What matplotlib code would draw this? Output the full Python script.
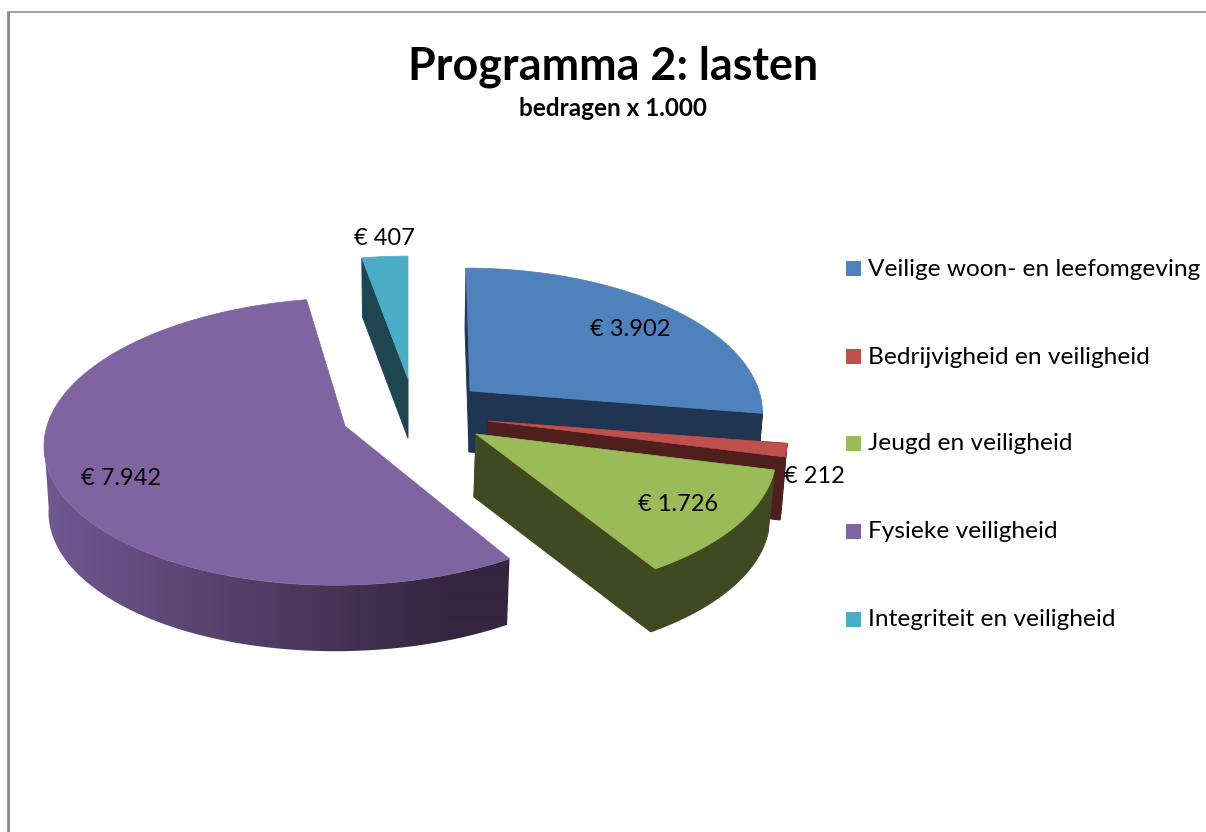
import numpy as np
import matplotlib
matplotlib.use("Agg")
import matplotlib.pyplot as plt
from matplotlib.patches import Polygon, Rectangle
from matplotlib.colors import LinearSegmentedColormap

# ---- data ----
categories = ["Veilige woon- en leefomgeving", "Bedrijvigheid en veiligheid",
              "Jeugd en veiligheid", "Fysieke veiligheid", "Integriteit en veiligheid"]
values = [3902, 212, 1726, 7942, 407]
title = "Programma 2: lasten"
subtitle = "bedragen x 1.000"

# ---- style ----
top_colors = ["#4f81bd", "#c0504d", "#9bbb59", "#8064a2", "#4bacc6"]
side_colors = ["#1f3552", "#4f1f1d", "#404a22", None, "#1e4651"]
purple_side = LinearSegmentedColormap.from_list("purple_side", ["#705790", "#35253f"])

# ---- layout: exploded slice geometry in pixels ----
apex_x = [470, 488, 476, 345, 408]
apex_y = [391, 421, 434, 426, 379]
depth = [61, 63, 63, 66, 59]
base_dx = [-1, -1, -2, 0, 0]
rad_x = [289, 296, 297, 298, 293]
rad_y = [140, 140, 140, 142, 140]
persp = [0.139, 0.139, 0.139, 0.108, 0.139]
skew = [-4, -1, -2, 10, 0]
end_face_visible = [True, True, True, True, False]
label_xy = [(630, 336), (814, 483), (678, 511), (121, 485), (384, 245)]
legend_y = [268, 356, 443, 531, 619]

plt.rcParams["font.family"] = ["Lato", "DejaVu Sans"]
fig = plt.figure(figsize=(12.06, 8.32), dpi=100)
ax = fig.add_axes([0, 0, 1, 1])
ax.axis("off")

ax.plot([8, 8], [832, 12], color="#868686", lw=2.0, solid_capstyle="butt")
ax.plot([7, 1206], [11.5, 11.5], color="#868686", lw=1.1, solid_capstyle="butt")


def arc_points(i, t0, t1):
    th = np.radians(np.linspace(t0, t1, max(int((t1 - t0) * 2), 2) + 1))
    u, v = np.sin(th), np.cos(th)
    s = 1 / (1 + persp[i] * v)
    x = apex_x[i] + rad_x[i] * u * s + skew[i] * v
    y = apex_y[i] - rad_y[i] * v * s
    return x, y


def base_of(i, x, y):
    return apex_x[i] + (np.asarray(x, float) - apex_x[i]) * 0.985 + base_dx[i], np.asarray(y, float) + depth[i]


def strip(i, x, y):
    bx, by = base_of(i, x, y)
    return np.r_[np.c_[x, y], np.c_[bx, by][::-1]]


edges = np.r_[0, np.cumsum(values)] / sum(values) * 360
for i in [4, 0, 1, 2, 3]:
    t0, t1 = edges[i], edges[i + 1]
    x, y = arc_points(i, t0, t1)
    tangent = np.degrees(np.arccos(-persp[i]))   # where the outline turns vertical
    lo, hi = max(t0, tangent), min(t1, 360 - tangent)
    if side_colors[i] is None:
        sx, sy = arc_points(i, lo, hi)
        poly = Polygon(strip(i, sx, sy), closed=True, fc="none", ec="none")
        ax.add_patch(poly)
        shade = np.clip((np.linspace(-200, 700, 900) - 50) / 400, 0, 1)[None, :]
        im = ax.imshow(shade, cmap=purple_side, aspect="auto", vmin=0, vmax=1,
                       extent=(-200, 700, 700, 400), interpolation="bilinear")
        im.set_clip_path(poly)
    else:
        c = side_colors[i]
        faces = [(x[0], y[0])] + ([(x[-1], y[-1])] if end_face_visible[i] else [])
        for end_x, end_y in faces:
            ax.add_patch(Polygon(strip(i, [apex_x[i], end_x], [apex_y[i], end_y]),
                                 closed=True, fc=c, ec=c, lw=0.7))
        if hi > lo:
            sx, sy = arc_points(i, lo, hi)
            ax.add_patch(Polygon(strip(i, sx, sy), closed=True, fc=c, ec=c, lw=0.7))
    ax.add_patch(Polygon(np.c_[np.r_[apex_x[i], x], np.r_[apex_y[i], y]], closed=True,
                         fc=top_colors[i], ec=top_colors[i], lw=0.5))

for v, (lx, ly) in zip(values, label_xy):
    txt = "€ " + f"{v:,}".replace(",", ".")
    ax.text(lx, ly, txt, fontsize=17, ha="center", va="baseline", color="black")

for name, c, ly in zip(categories, top_colors, legend_y):
    ax.add_patch(Rectangle((846, ly - 7.5), 15, 15, fc=c, ec="none"))
    ax.text(868, ly + 7.5, name, fontsize=17.6, ha="left", va="baseline", color="black")

ax.text(613, 79, title, fontsize=32.3, fontweight="bold", ha="center", va="baseline", color="black")
ax.text(613, 116, subtitle, fontsize=17.5, fontweight="bold", ha="center", va="baseline", color="black")

ax.set_xlim(0, 1206)
ax.set_ylim(832, 0)
fig.savefig("out.png", dpi=100, facecolor="white")
